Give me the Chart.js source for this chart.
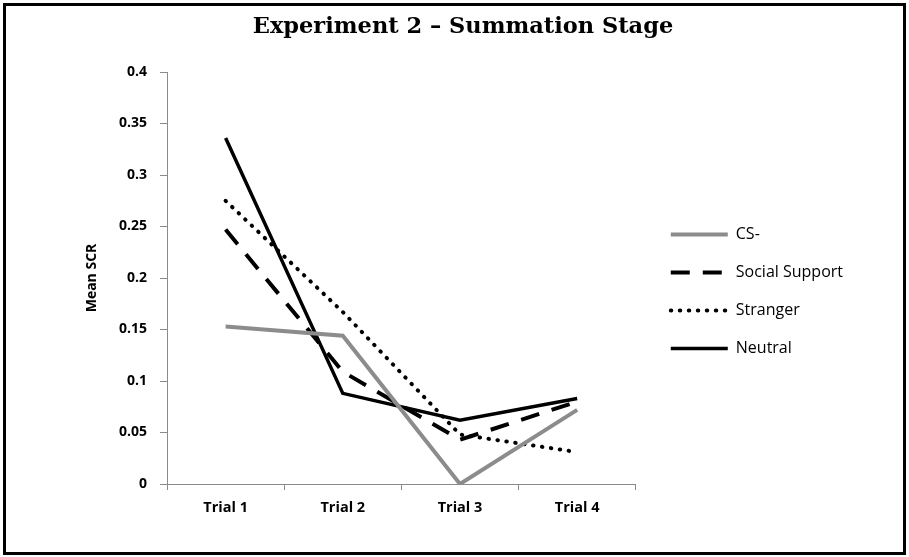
<!DOCTYPE html>
<html>
<head>
<meta charset="utf-8">
<script src="https://cdn.jsdelivr.net/npm/chart.js@4/dist/chart.umd.min.js"></script>
<style>
  html, body { margin: 0; padding: 0; background: #fff; }
  #wrap { width: 909px; height: 557px; position: relative; }
</style>
</head>
<body>
<div id="wrap"><canvas id="myChart"></canvas></div>
<script>
var trials = ['Trial 1', 'Trial 2', 'Trial 3', 'Trial 4'];
var csMinus = [0.153, 0.144, 0.0, 0.072];
var socialSupport = [0.247, 0.109, 0.043, 0.080];
var stranger = [0.275, 0.167, 0.048, 0.031];
var neutral = [0.336, 0.088, 0.062, 0.083];
var yTicks = [0, 0.05, 0.1, 0.15, 0.2, 0.25, 0.3, 0.35, 0.4];

var axisGrey = '#8a8a8a';
var sans = '"Open Sans", "Liberation Sans", sans-serif';

// black frame round the whole figure
var framePlugin = {
    id: 'frame',
    afterDraw: function (chart) {
        var c = chart.ctx;
        c.save();
        c.strokeStyle = '#000';
        c.lineWidth = 3;
        c.strokeRect(4.5, 4.5, chart.width - 9, chart.height - 8);
        c.restore();
    }
};

// invisible scale used only to reserve horizontal space
function spacer(pos, weight, w) {
    return {
        type: 'linear',
        position: pos,
        weight: weight,
        display: false,
        afterFit: function (s) { s.width = w; }
    };
}

var ctx = document.getElementById('myChart').getContext('2d');
new Chart(ctx, {
    type: 'line',
    data: {
        labels: trials,
        datasets: [{
            label: 'CS-',
            data: csMinus,
            borderColor: '#8c8c8c',
            backgroundColor: '#8c8c8c',
            borderWidth: 4,
            pointStyle: 'line'
        }, {
            label: 'Social Support',
            data: socialSupport,
            borderColor: '#000',
            backgroundColor: '#000',
            borderWidth: 4,
            borderDash: [19, 13],
            pointStyle: 'line'
        }, {
            label: 'Stranger',
            data: stranger,
            borderColor: '#000',
            backgroundColor: '#000',
            borderWidth: 4,
            borderDash: [0.5, 8.5],
            borderCapStyle: 'round',
            pointStyle: 'line'
        }, {
            label: 'Neutral',
            data: neutral,
            borderColor: '#000',
            backgroundColor: '#000',
            borderWidth: 3.5,
            pointStyle: 'line'
        }]
    },
    options: {
        responsive: true,
        maintainAspectRatio: false,
        animation: false,
        devicePixelRatio: 1,
        elements: {
            point: { radius: 0, hoverRadius: 0 },
            line: { tension: 0, fill: false }
        },
        layout: { padding: { left: 17, right: 0, top: 0, bottom: 0 } },
        plugins: {
            tooltip: { enabled: false },
            title: {
                display: true,
                text: 'Experiment 2 \u2013 Summation Stage',
                color: '#000',
                font: { family: '"DejaVu Serif", "Liberation Serif", serif', size: 22.5, weight: 'bold' },
                padding: { top: 14, bottom: 31 }
            },
            legend: {
                position: 'right',
                align: 'center',
                title: { display: true, text: ' ', font: { size: 10 }, padding: 7 },
                labels: {
                    usePointStyle: true,
                    pointStyleWidth: 57,
                    boxHeight: 4,
                    padding: 22,
                    color: '#000',
                    font: { family: sans, size: 16 },
                    // carry the dash pattern of each series into its legend line
                    generateLabels: function (chart) {
                        var items = Chart.defaults.plugins.legend.labels.generateLabels(chart);
                        items.forEach(function (it) {
                            var ds = chart.data.datasets[it.datasetIndex];
                            it.lineDash = ds.borderDash || [];
                            it.lineCap = ds.borderCapStyle || 'butt';
                            it.lineWidth = ds.borderWidth;
                            it.strokeStyle = ds.borderColor;
                            it.fillStyle = ds.borderColor;
                        });
                        return items;
                    }
                }
            }
        },
        scales: {
            x: {
                offset: true,
                grid: {
                    offset: true,
                    drawOnChartArea: false,
                    drawTicks: true,
                    tickLength: 6,
                    color: axisGrey
                },
                border: { color: axisGrey, width: 1 },
                ticks: {
                    padding: 9,
                    color: '#000',
                    font: { family: sans, size: 14.5, weight: 'bold' }
                },
                afterFit: function (s) { s.height = 73; }
            },
            y: {
                min: 0,
                max: 0.4,
                afterBuildTicks: function (s) {
                    s.ticks = yTicks.map(function (v) { return { value: v }; });
                },
                grid: {
                    drawOnChartArea: false,
                    drawTicks: true,
                    tickLength: 7,
                    color: axisGrey
                },
                border: { color: axisGrey, width: 1 },
                ticks: {
                    padding: 13,
                    color: '#000',
                    font: { family: sans, size: 14, weight: 'bold' },
                    callback: function (v) { return String(Math.round(v * 100) / 100); }
                },
                title: {
                    display: true,
                    text: 'Mean SCR',
                    color: '#000',
                    font: { family: sans, size: 14, weight: 'bold' },
                    padding: { top: 67, bottom: 0 }
                },
                afterFit: function (s) { s.width = 150; }
            },
            gap: spacer('right', 0, 13),
            rpad: spacer('right', 2000, 56)
        }
    },
    plugins: [framePlugin]
});
</script>
</body>
</html>
